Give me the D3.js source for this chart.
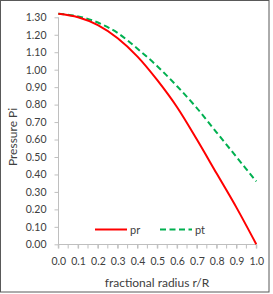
<!DOCTYPE html>
<html><head><meta charset="utf-8">
<script src="https://cdn.jsdelivr.net/npm/d3@7"></script>
<style>body{margin:0;background:#fff}svg{display:block}text{font-family:Lato,"Open Sans",sans-serif;fill:#404040}</style>
</head><body><div id="c"></div>
<script>
const radius = [0.0,0.1,0.2,0.3,0.4,0.5,0.6,0.7,0.8,0.9,1.0];
const pr = [1.32,1.30,1.255,1.18,1.075,0.94,0.785,0.60,0.405,0.21,0.0];
const pt = [1.32,1.305,1.27,1.21,1.12,1.02,0.905,0.78,0.64,0.50,0.36];
const yTicks = [0,0.1,0.2,0.3,0.4,0.5,0.6,0.7,0.8,0.9,1.0,1.1,1.2,1.3];
const xTicks = [0,0.1,0.2,0.3,0.4,0.5,0.6,0.7,0.8,0.9,1.0];
const xMinor = d3.range(0,1.0001,0.05);
const seriesNames = ["pr","pt"];

const W=273,H=294;
const svg=d3.select("#c").append("svg").attr("width",W).attr("height",H);
svg.append("rect").attr("x",0.5).attr("y",0.5).attr("width",268.5).attr("height",291.5).attr("fill","#fff").attr("stroke","#595959");

const x=d3.scaleLinear().domain([0,1]).range([58.3,256.3]);
const y=d3.scaleLinear().domain([0,1.3]).range([244.3,17.3]);

// y axis
const ya=svg.append("g").attr("transform","translate(58.5,0)")
  .call(d3.axisLeft(y).tickValues(yTicks).tickFormat(d3.format(".2f")).tickSize(4).tickPadding(8));
ya.select(".domain").attr("stroke","#bfbfbf").attr("d",`M-0,${y(1.3)}V${y(0)}`);
ya.selectAll(".tick line").attr("stroke","#bfbfbf");
ya.selectAll("text").style("font-size","10.5px").attr("fill","#404040").style("font-family","Lato");

// x axis
const xa=svg.append("g").attr("transform","translate(0,244.5)")
  .call(d3.axisBottom(x).tickValues(xTicks).tickFormat(d3.format(".1f")).tickSize(4).tickPadding(9));
xa.select(".domain").attr("stroke","#bfbfbf").attr("d",`M${x(0)},0H${x(1)}`);
xa.selectAll(".tick line").attr("stroke","#bfbfbf");
xa.selectAll("text").style("font-size","10.5px").attr("fill","#404040").style("font-family","Lato");
xa.selectAll(".minor").data(xMinor).enter().append("line").attr("class","minor")
  .attr("x1",d=>x(d)).attr("x2",d=>x(d)).attr("y1",0).attr("y2",4).attr("stroke","#bfbfbf");

const line=d3.line().x((d,i)=>x(radius[i])).y(d=>y(d)).curve(d3.curveMonotoneX);
svg.append("path").datum(pt).attr("d",line).attr("fill","none").attr("stroke","#00b050").attr("stroke-width",2).attr("stroke-dasharray","6,3.5");
svg.append("path").datum(pr).attr("d",line).attr("fill","none").attr("stroke","#ff0000").attr("stroke-width",2);

// titles
svg.append("text").attr("x",157).attr("y",287).attr("text-anchor","middle").style("font-size","12px").text("fractional radius r/R");
svg.append("text").attr("transform","translate(17,137) rotate(-90)").attr("text-anchor","middle").style("font-size","12px").text("Pressure Pi");

// legend
const leg=[{name:seriesNames[0],c:"#ff0000",dash:null,x0:95},{name:seriesNames[1],c:"#00b050",dash:"6,3.5",x0:160}];
leg.forEach(l=>{
  svg.append("line").attr("x1",l.x0).attr("x2",l.x0+32).attr("y1",229.5).attr("y2",229.5).attr("stroke",l.c).attr("stroke-width",2).attr("stroke-dasharray",l.dash);
  svg.append("text").attr("x",l.x0+35).attr("y",233.5).style("font-size","11px").text(l.name);
});
</script></body></html>
